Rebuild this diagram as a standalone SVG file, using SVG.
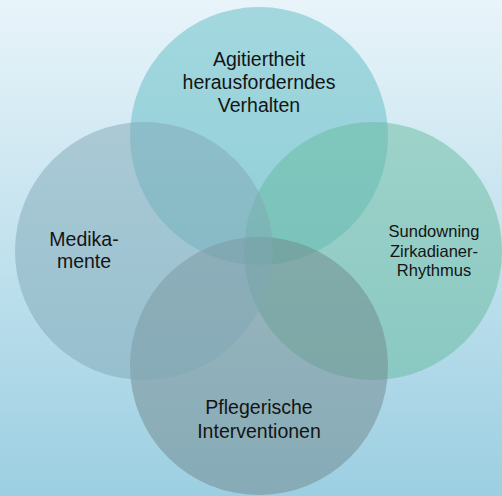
<svg xmlns="http://www.w3.org/2000/svg" width="502" height="496" viewBox="0 0 502 496">
  <defs>
    <linearGradient id="bg" x1="0" y1="0" x2="0" y2="1">
      <stop offset="0" stop-color="#E8F4FA"/>
      <stop offset="1" stop-color="#9CCFE2"/>
    </linearGradient>
  </defs>
  <style>
    .c { fill-opacity: 0.5; }
    .t { font-family: "Liberation Sans", Arial, sans-serif; font-size: 19.5px; fill: #141414; text-anchor: middle; }
    .s { font-size: 16.5px; }
  </style>
  <rect x="0" y="0" width="502" height="496" fill="url(#bg)"/>
  <g id="node-top">
    <circle class="c" cx="259" cy="136" r="129" fill="#60BCC4"/>
  </g>
  <g id="node-right">
    <circle class="c" cx="373" cy="251" r="129" fill="#66BA9E"/>
  </g>
  <g id="node-bottom">
    <circle class="c" cx="259" cy="366" r="129" fill="#6F878C"/>
  </g>
  <g id="node-left">
    <circle class="c" cx="144" cy="251" r="129" fill="#80A7B5"/>
  </g>
  <g id="connectors"></g>
  <g id="labels">
    <g id="label-top">
      <text class="t" x="259" y="66">Agitiertheit</text>
      <text class="t" x="259" y="89">herausforderndes</text>
      <text class="t" x="259" y="112">Verhalten</text>
    </g>
    <g id="label-left">
      <text class="t" x="84" y="246">Medika-</text>
      <text class="t" x="84" y="268">mente</text>
    </g>
    <g id="label-right">
      <text class="t s" x="434" y="237">Sundowning</text>
      <text class="t s" x="434" y="257">Zirkadianer-</text>
      <text class="t s" x="434" y="276">Rhythmus</text>
    </g>
    <g id="label-bottom">
      <text class="t" x="259" y="414">Pflegerische</text>
      <text class="t" x="259" y="438">Interventionen</text>
    </g>
  </g>
</svg>
